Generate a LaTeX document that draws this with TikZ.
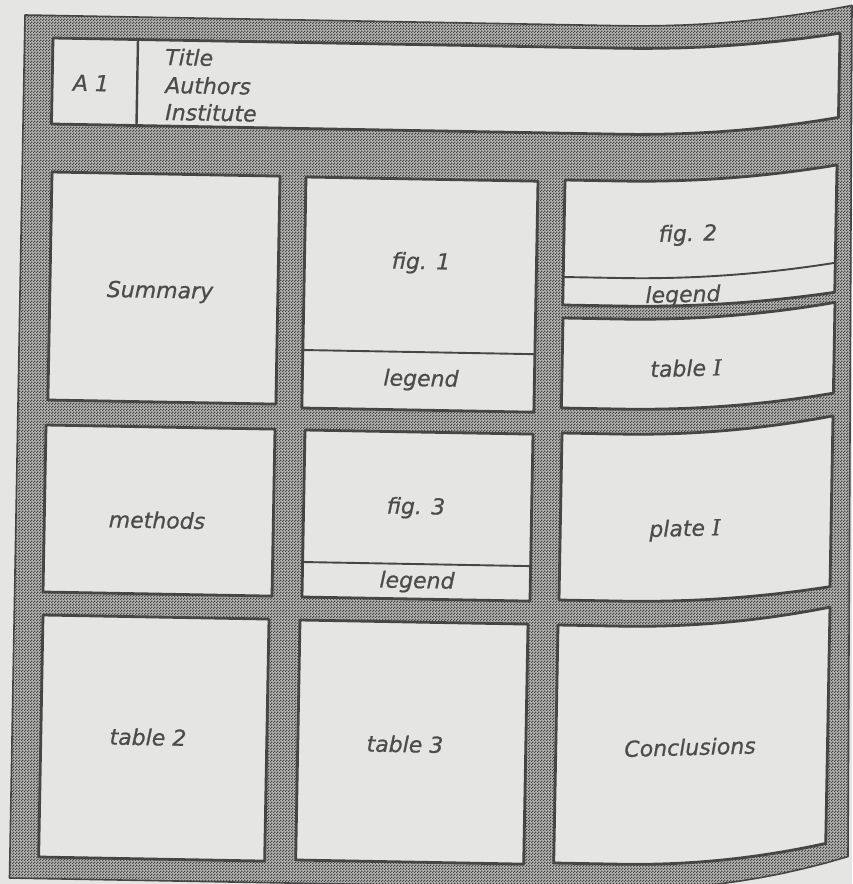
\documentclass[tikz,border=0pt]{standalone}
\usepackage{fontspec}
\setmainfont{DejaVu Sans}[ItalicFont={DejaVu Sans Oblique}, ItalicFeatures={FakeBold=0.8}]
\newfontfamily\serifI{DejaVu Serif}[ItalicFont={DejaVu Serif Italic}, ItalicFeatures={FakeBold=0.8}]
\usetikzlibrary{patterns}
\definecolor{paper}{RGB}{229,229,227}
\definecolor{hatchbase}{RGB}{182,182,180}
\definecolor{hatchdark}{RGB}{68,68,68}
\definecolor{ink}{RGB}{70,70,70}
\definecolor{txt}{RGB}{76,76,76}
\pgfdeclarepatternformonly{checker}{\pgfqpoint{0pt}{0pt}}{\pgfqpoint{3pt}{3pt}}{\pgfqpoint{3pt}{3pt}}{%
  \pgfpathrectangle{\pgfqpoint{0pt}{0pt}}{\pgfqpoint{1.5pt}{1.5pt}}%
  \pgfpathrectangle{\pgfqpoint{1.5pt}{1.5pt}}{\pgfqpoint{1.5pt}{1.5pt}}%
  \pgfusepath{fill}}
\def\slp{0.018}
% panel: xL, yT, w, h, top bend, bottom bend
\newcommand\pnl[6]{%
  \path[pnlst] plot[domain=#1:#1+#3] (\x,{#2+\slp*(\x-#1)-bnd(\x,#5)})
    -- plot[domain=#1+#3-\slp*#4:#1-\slp*#4] (\x,{#2+#4+\slp*(\x-#1+\slp*#4)-bnd(\x,#6)}) -- cycle;}
% divider: xL, yT, w, offset, bend
\newcommand\pdiv[5]{%
  \path[divst] plot[domain=#1-\slp*#4:#1+#3-\slp*#4] (\x,{#2+#4+\slp*(\x-#1+\slp*#4)-bnd(\x,#5)});}
\begin{document}
\begin{tikzpicture}[x=1pt,y=-1pt,
  declare function={bnd(\x,\bendamt)=\bendamt*(max(0,\x-620)/220)*(max(0,\x-620)/220);},
  samples=40,
  pnlst/.style={fill=paper, draw=ink, line width=2.8pt, line join=round},
  divst/.style={draw=ink, line width=1.9pt},
  lblbase/.style={font=\fontsize{22}{27}\selectfont\itshape, text=txt, inner sep=0pt},
  lbl/.style={lblbase, rotate=-1},
  lblr/.style={lblbase, rotate=1.5}]
\fill[paper] (0,0) rectangle (852,884);
\useasboundingbox (0,0) rectangle (852,884);
% board
\path[preaction={fill=hatchbase}, pattern=checker, pattern color=hatchdark, draw=ink, line width=1.6pt, line join=round]
  plot[domain=25:852] (\x,{15+\slp*(\x-25)-bnd(\x,22)})
  -- plot[domain=848:9.5] (\x,{878+\slp*(\x-9.5)-bnd(\x,34)}) -- cycle;
% header
\pnl{53}{38}{787}{86}{19}{21}
\draw[ink, line width=2.4pt] (138,39.5) -- (136.5,125.5);
% row 1
\pnl{52}{172}{228}{228}{0}{0}
\pnl{306}{177}{232}{231}{0}{0}
\pdiv{306}{177}{232}{173}{0}
\pnl{565}{180}{272}{125}{20.5}{18.5}
\pdiv{565}{180}{272}{97}{20}
\pnl{563}{318}{272}{90}{21.5}{21}
% row 2
\pnl{46}{425}{229}{167}{0}{0}
\pnl{305}{430}{228}{167}{0}{0}
\pdiv{305}{430}{228}{132}{0}
\pnl{562}{433}{271}{167}{23.5}{20}
% row 3
\pnl{43}{615}{226}{242}{0}{0}
\pnl{300}{620}{228}{240}{0}{0}
\pnl{558}{625}{272}{238}{25}{28}
% texts
\node[lbl] (a1) at (91,83) {A 1};
\node[lbl, anchor=base west] (title) at (165,65) {Title};
\node[lbl, anchor=base west] (authors) at (165,93) {Authors};
\node[lbl, anchor=base west] (inst) at (165,120) {Institute};
\node[lbl] (summary) at (160,292) {Summary};
\node[lbl] (fig1) at (421,263) {fig. 1};
\node[lbl] (leg1) at (421,380) {legend};
\node[lblr] (fig2) at (688,235) {fig. 2};
\node[lblr] (leg2) at (683,296) {legend};
\node[lblr] (tab1) at (686,368) {table {\serifI I}};
\node[lbl] (methods) at (157,520) {methods};
\node[lbl] (fig3) at (416,508) {fig. 3};
\node[lbl] (leg3) at (417,582) {legend};
\node[lblr] (plate) at (685,530) {plate {\serifI I}};
\node[lbl] (tab2) at (148,737) {table 2};
\node[lbl] (tab3) at (405,744) {table 3};
\node[lblr] (concl) at (690,747) {Conclusions};
\end{tikzpicture}
\end{document}
